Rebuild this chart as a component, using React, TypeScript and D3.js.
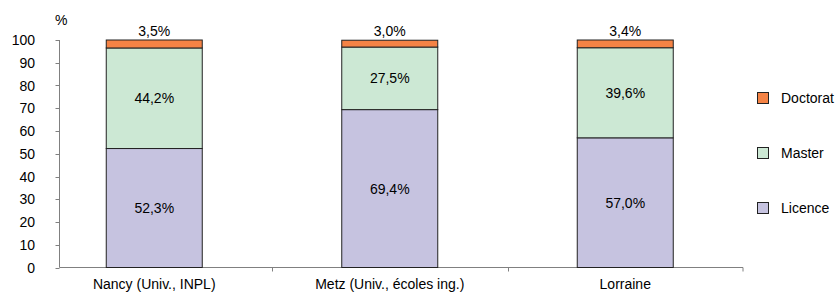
import React from "react";
import * as d3 from "d3";

const categories = ["Nancy (Univ., INPL)", "Metz (Univ., écoles ing.)", "Lorraine"];
const licence = [52.3, 69.4, 57.0];
const master = [44.2, 27.5, 39.6];
const doctorat = [3.5, 3.0, 3.4];
const seriesNames = ["Licence", "Master", "Doctorat"];
const seriesColors = ["#C6C3E0", "#CCE8D4", "#F58345"];
const yTicks = [0, 10, 20, 30, 40, 50, 60, 70, 80, 90, 100];

const fmt = (v: number) => v.toFixed(1).replace(".", ",") + "%";

export default function App() {
  const W = 840, H = 293;
  const x = d3.scaleBand<string>().domain(categories).range([36.5, 743]).padding(0);
  const y = d3.scaleLinear().domain([0, 100]).range([267.5, 40]);
  const barW = 96;
  const axisX = 59.5;
  const font = "'Liberation Sans', Arial, sans-serif";
  const fs = 14;
  const series = [licence, master, doctorat];
  const stacked = categories.map((c, i) => {
    let acc = 0;
    return series.map((s, k) => {
      const y0 = acc;
      acc += s[i];
      return { k, y0, y1: acc, v: s[i] };
    });
  });
  return (
    <svg width={W} height={H} style={{ position: "absolute", left: 0, top: 0, fontFamily: font }}>
      <rect width={W} height={H} fill="#fff" />
      <line x1={axisX} x2={axisX} y1={y(100)} y2={y(0)} stroke="#808080" />
      {yTicks.map((t) => (
        <g key={t}>
          <line x1={axisX - 4} x2={axisX} y1={Math.round(y(t)) + 0.5} y2={Math.round(y(t)) + 0.5} stroke="#808080" />
          <text x={35} y={y(t) + 5} textAnchor="end" fontSize={fs} fill="#000">{t}</text>
        </g>
      ))}
      <text x={55} y={25} fontSize={fs} fill="#000">%</text>
      <line x1={axisX} x2={743} y1={y(0)} y2={y(0)} stroke="#808080" />
      {categories.slice(1).map((c) => (
        <line key={c} x1={Math.round(x(c)!) + 0.5} x2={Math.round(x(c)!) + 0.5} y1={y(0)} y2={y(0) + 4} stroke="#808080" />
      ))}
      <line x1={743} x2={743} y1={y(0)} y2={y(0) + 4} stroke="#808080" />
      {categories.map((c, i) => {
        const cx = x(c)! + x.bandwidth() / 2;
        return (
          <g key={c}>
            {stacked[i].map((seg) => (
              <rect key={seg.k} x={cx - barW / 2} width={barW} y={y(seg.y1)} height={y(seg.y0) - y(seg.y1)}
                fill={seriesColors[seg.k]} stroke="#222" strokeWidth={1} />
            ))}
            {stacked[i].map((seg) =>
              seg.k < 2 ? (
                <text key={"t" + seg.k} x={cx} y={(y(seg.y0) + y(seg.y1)) / 2 + 5} textAnchor="middle" fontSize={fs} fill="#000">{fmt(seg.v)}</text>
              ) : (
                <text key={"t" + seg.k} x={cx} y={y(100) - 4} textAnchor="middle" fontSize={fs} fill="#000">{fmt(seg.v)}</text>
              )
            )}
            <text x={cx} y={289} textAnchor="middle" fontSize={fs} fill="#000">{c}</text>
          </g>
        );
      })}
      {[2, 1, 0].map((k, j) => {
        const cy = 98 + j * 55;
        return (
          <g key={k}>
            <rect x={757.5} y={cy - 5.5} width={11} height={11} fill={seriesColors[k]} stroke="#222" />
            <text x={781} y={cy + 5} fontSize={fs} fill="#000">{seriesNames[k]}</text>
          </g>
        );
      })}
    </svg>
  );
}
